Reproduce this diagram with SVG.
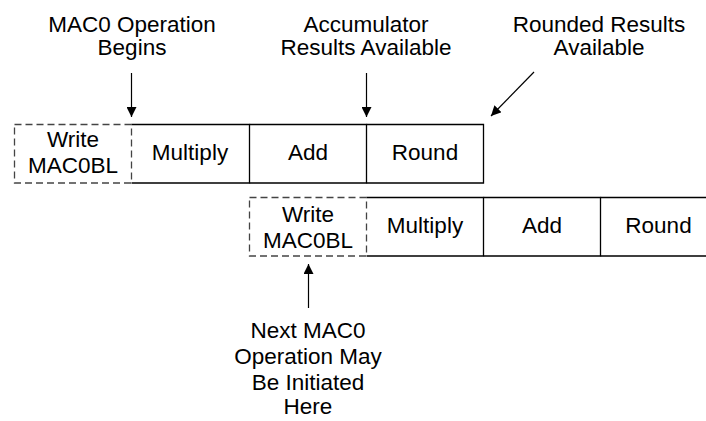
<svg xmlns="http://www.w3.org/2000/svg" width="706" height="421" viewBox="0 0 706 421">
<defs>
<marker id="ah" viewBox="0 0 10 10" refX="10" refY="5" markerWidth="10" markerHeight="10" markerUnits="userSpaceOnUse" orient="auto">
<path d="M0,0 L10,5 L0,10 z" fill="#000"/>
</marker>
<style>
text{font-family:"Liberation Sans",Arial,sans-serif;font-size:22.5px;fill:#000;text-anchor:middle}
.dash{fill:none;stroke:#444;stroke-width:1.3;stroke-dasharray:7 4}
.box{fill:none;stroke:#000;stroke-width:1.3}
.conn{fill:none;stroke:#000;stroke-width:1.2;marker-end:url(#ah)}
</style>
</defs>
<rect width="706" height="421" fill="#fff"/>
<g id="labels">
<text x="132" y="32">MAC0 Operation</text>
<text x="132" y="55">Begins</text>
<text x="366" y="32">Accumulator</text>
<text x="366" y="55">Results Available</text>
<text x="599" y="32">Rounded Results</text>
<text x="599" y="55">Available</text>
<text x="308" y="338">Next MAC0</text>
<text x="308" y="364">Operation May</text>
<text x="308" y="390">Be Initiated</text>
<text x="308" y="414">Here</text>
</g>
<g id="row1-write">
<rect class="dash" x="14.5" y="124.5" width="117" height="58.5"/>
<text x="73" y="147">Write</text>
<text x="73" y="173">MAC0BL</text>
</g>
<g id="row1-multiply">
<path class="box" d="M131.5,124.5 H249.5 V183 H131.5"/>
<text x="190" y="160">Multiply</text>
</g>
<g id="row1-add">
<path class="box" d="M249.5,124.5 H366.5 V183 H249.5"/>
<text x="308" y="160">Add</text>
</g>
<g id="row1-round">
<path class="box" d="M366.5,124.5 H483.5 V183 H366.5"/>
<text x="425" y="160">Round</text>
</g>
<g id="row2-write">
<rect class="dash" x="249.5" y="197.5" width="117" height="58.5"/>
<text x="308" y="222">Write</text>
<text x="308" y="248">MAC0BL</text>
</g>
<g id="row2-multiply">
<path class="box" d="M366.5,197.5 H483.5 V256 H366.5"/>
<text x="425" y="233">Multiply</text>
</g>
<g id="row2-add">
<path class="box" d="M483.5,197.5 H600.5 V256 H483.5"/>
<text x="542" y="233">Add</text>
</g>
<g id="row2-round">
<path class="box" d="M600.5,197.5 H720 M720,256 H600.5"/>
<text x="658.5" y="233">Round</text>
</g>
<g id="connectors">
<line class="conn" x1="131.5" y1="73" x2="131.5" y2="117"/>
<line class="conn" x1="366.5" y1="73" x2="366.5" y2="117"/>
<line class="conn" x1="534" y1="72" x2="491" y2="116"/>
<line class="conn" x1="308.5" y1="308" x2="308.5" y2="264"/>
</g>
</svg>
